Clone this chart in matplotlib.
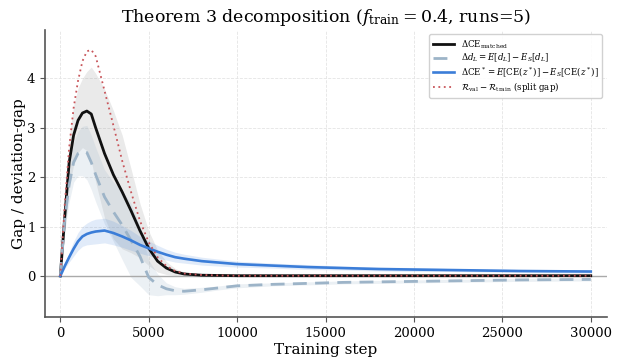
import matplotlib
matplotlib.use("Agg")
import matplotlib.pyplot as plt
import numpy as np

# values
steps = [0, 250, 500, 750, 1000, 1250, 1500, 1750, 2000, 2500, 3000, 3500, 4000, 4500,
         5000, 5500, 6000, 6500, 7000, 8000, 9000, 10000, 12000, 14000, 16000, 18000,
         20000, 22000, 24000, 26000, 28000, 30000]

ce_matched = [0, 1.2, 2.3, 2.85, 3.15, 3.3, 3.34, 3.28, 3.0, 2.48, 2.05, 1.7, 1.32, 0.92,
              0.56, 0.3, 0.16, 0.08, 0.04, 0.015, 0.01, 0.005, 0.005, 0.005, 0.005, 0.005,
              0.005, 0.005, 0.005, 0.005, 0.005, 0.005]
ce_matched_sd = [0, 0.3, 0.5, 0.6, 0.65, 0.7, 0.8, 0.95, 1.1, 1.3, 1.3, 1.15, 0.85, 0.55,
                 0.35, 0.22, 0.13, 0.07, 0.04, 0.02, 0.01, 0.01, 0.01, 0.01, 0.01, 0.01,
                 0.01, 0.01, 0.01, 0.01, 0.01, 0.01]

delta_dl = [0, 1.15, 1.85, 2.3, 2.48, 2.53, 2.5, 2.3, 2.05, 1.6, 1.3, 1.03, 0.72, 0.4,
            -0.03, -0.18, -0.26, -0.3, -0.31, -0.28, -0.24, -0.2, -0.17, -0.15, -0.13,
            -0.12, -0.11, -0.1, -0.09, -0.08, -0.075, -0.07]
delta_dl_sd = [0, 0.25, 0.35, 0.4, 0.45, 0.5, 0.55, 0.55, 0.55, 0.55, 0.6, 0.7, 0.75, 0.6,
               0.35, 0.22, 0.12, 0.08, 0.06, 0.05, 0.04, 0.04, 0.03, 0.03, 0.03, 0.03,
               0.03, 0.03, 0.03, 0.03, 0.03, 0.03]

ce_star = [0, 0.2, 0.38, 0.55, 0.7, 0.8, 0.85, 0.88, 0.9, 0.92, 0.87, 0.8, 0.72, 0.63,
           0.56, 0.49, 0.43, 0.38, 0.35, 0.3, 0.27, 0.24, 0.21, 0.18, 0.16, 0.14, 0.13,
           0.12, 0.11, 0.1, 0.095, 0.09]
ce_star_sd = [0, 0.05, 0.1, 0.15, 0.18, 0.2, 0.22, 0.24, 0.25, 0.25, 0.24, 0.22, 0.2, 0.17,
              0.15, 0.13, 0.11, 0.1, 0.09, 0.08, 0.07, 0.06, 0.05, 0.05, 0.04, 0.04, 0.04,
              0.03, 0.03, 0.03, 0.03, 0.03]

split_gap = [0, 1.45, 2.6, 3.4, 3.95, 4.35, 4.55, 4.58, 4.45, 3.75, 3.05, 2.33, 1.7, 1.12,
             0.68, 0.38, 0.2, 0.1, 0.05, 0.02, 0.01, 0.005, 0.005, 0.005, 0.005, 0.005,
             0.005, 0.005, 0.005, 0.005, 0.005, 0.005]

plt.rcParams["font.family"] = "DejaVu Serif"
plt.rcParams["mathtext.fontset"] = "dejavuserif"

fig = plt.figure(figsize=(6.17, 3.58), dpi=100)
ax = fig.add_axes([0.073, 0.114, 0.910, 0.802])

x = np.array(steps)


def band(mean, sd, color, alpha):
    m = np.array(mean)
    s = np.array(sd)
    ax.fill_between(x, m - s, m + s, color=color, alpha=alpha, linewidth=0)


band(ce_matched, ce_matched_sd, "#8c8c8c", 0.18)
band(delta_dl, delta_dl_sd, "#9db4c8", 0.2)
band(ce_star, ce_star_sd, "#3b7dd8", 0.15)

ax.axhline(0, color="#aaaaaa", lw=1, zorder=1)

ax.plot(x, ce_matched, color="#111111", lw=2, label=r"$\Delta\mathrm{CE}_{\mathrm{matched}}$")
ax.plot(x, delta_dl, color="#9db4c8", lw=2, ls=(0, (5, 3)),
        label=r"$\Delta d_L = E[d_L] - E_S[d_L]$")
ax.plot(x, ce_star, color="#3b7dd8", lw=1.9,
        label=r"$\Delta\mathrm{CE}^* = E[\mathrm{CE}(z^*)] - E_S[\mathrm{CE}(z^*)]$")
ax.plot(x, split_gap, color="#c8555a", lw=1.3, ls=(0, (1, 2)),
        label=r"$\mathcal{R}_{\mathrm{val}} - \mathcal{R}_{\mathrm{train}}$ (split gap)")

ax.set_xlim(-865, 30890)
ax.set_ylim(-0.835, 4.98)
ax.set_xticks([0, 5000, 10000, 15000, 20000, 25000, 30000])
ax.set_yticks([0, 1, 2, 3, 4])
ax.tick_params(labelsize=9.5, color="#555555")
ax.grid(True, ls="--", lw=0.6, color="#e4e4e4")
ax.set_axisbelow(True)
for side in ["top", "right"]:
    ax.spines[side].set_visible(False)
for side in ["left", "bottom"]:
    ax.spines[side].set_color("#555555")
    ax.spines[side].set_linewidth(1.2)

ax.set_xlabel("Training step", fontsize=11, labelpad=2)
ax.set_ylabel("Gap / deviation-gap", fontsize=11, labelpad=0.5)
ax.set_title(r"Theorem 3 decomposition ($f_{\mathrm{train}} = 0.4$, runs=5)", fontsize=12.5)
ax.legend(loc="upper right", fontsize=6.2, framealpha=0.9, edgecolor="#cccccc",
          labelspacing=0.12, borderpad=0.45, handlelength=2.4, handletextpad=0.8)

fig.savefig("out.png", dpi=100)
